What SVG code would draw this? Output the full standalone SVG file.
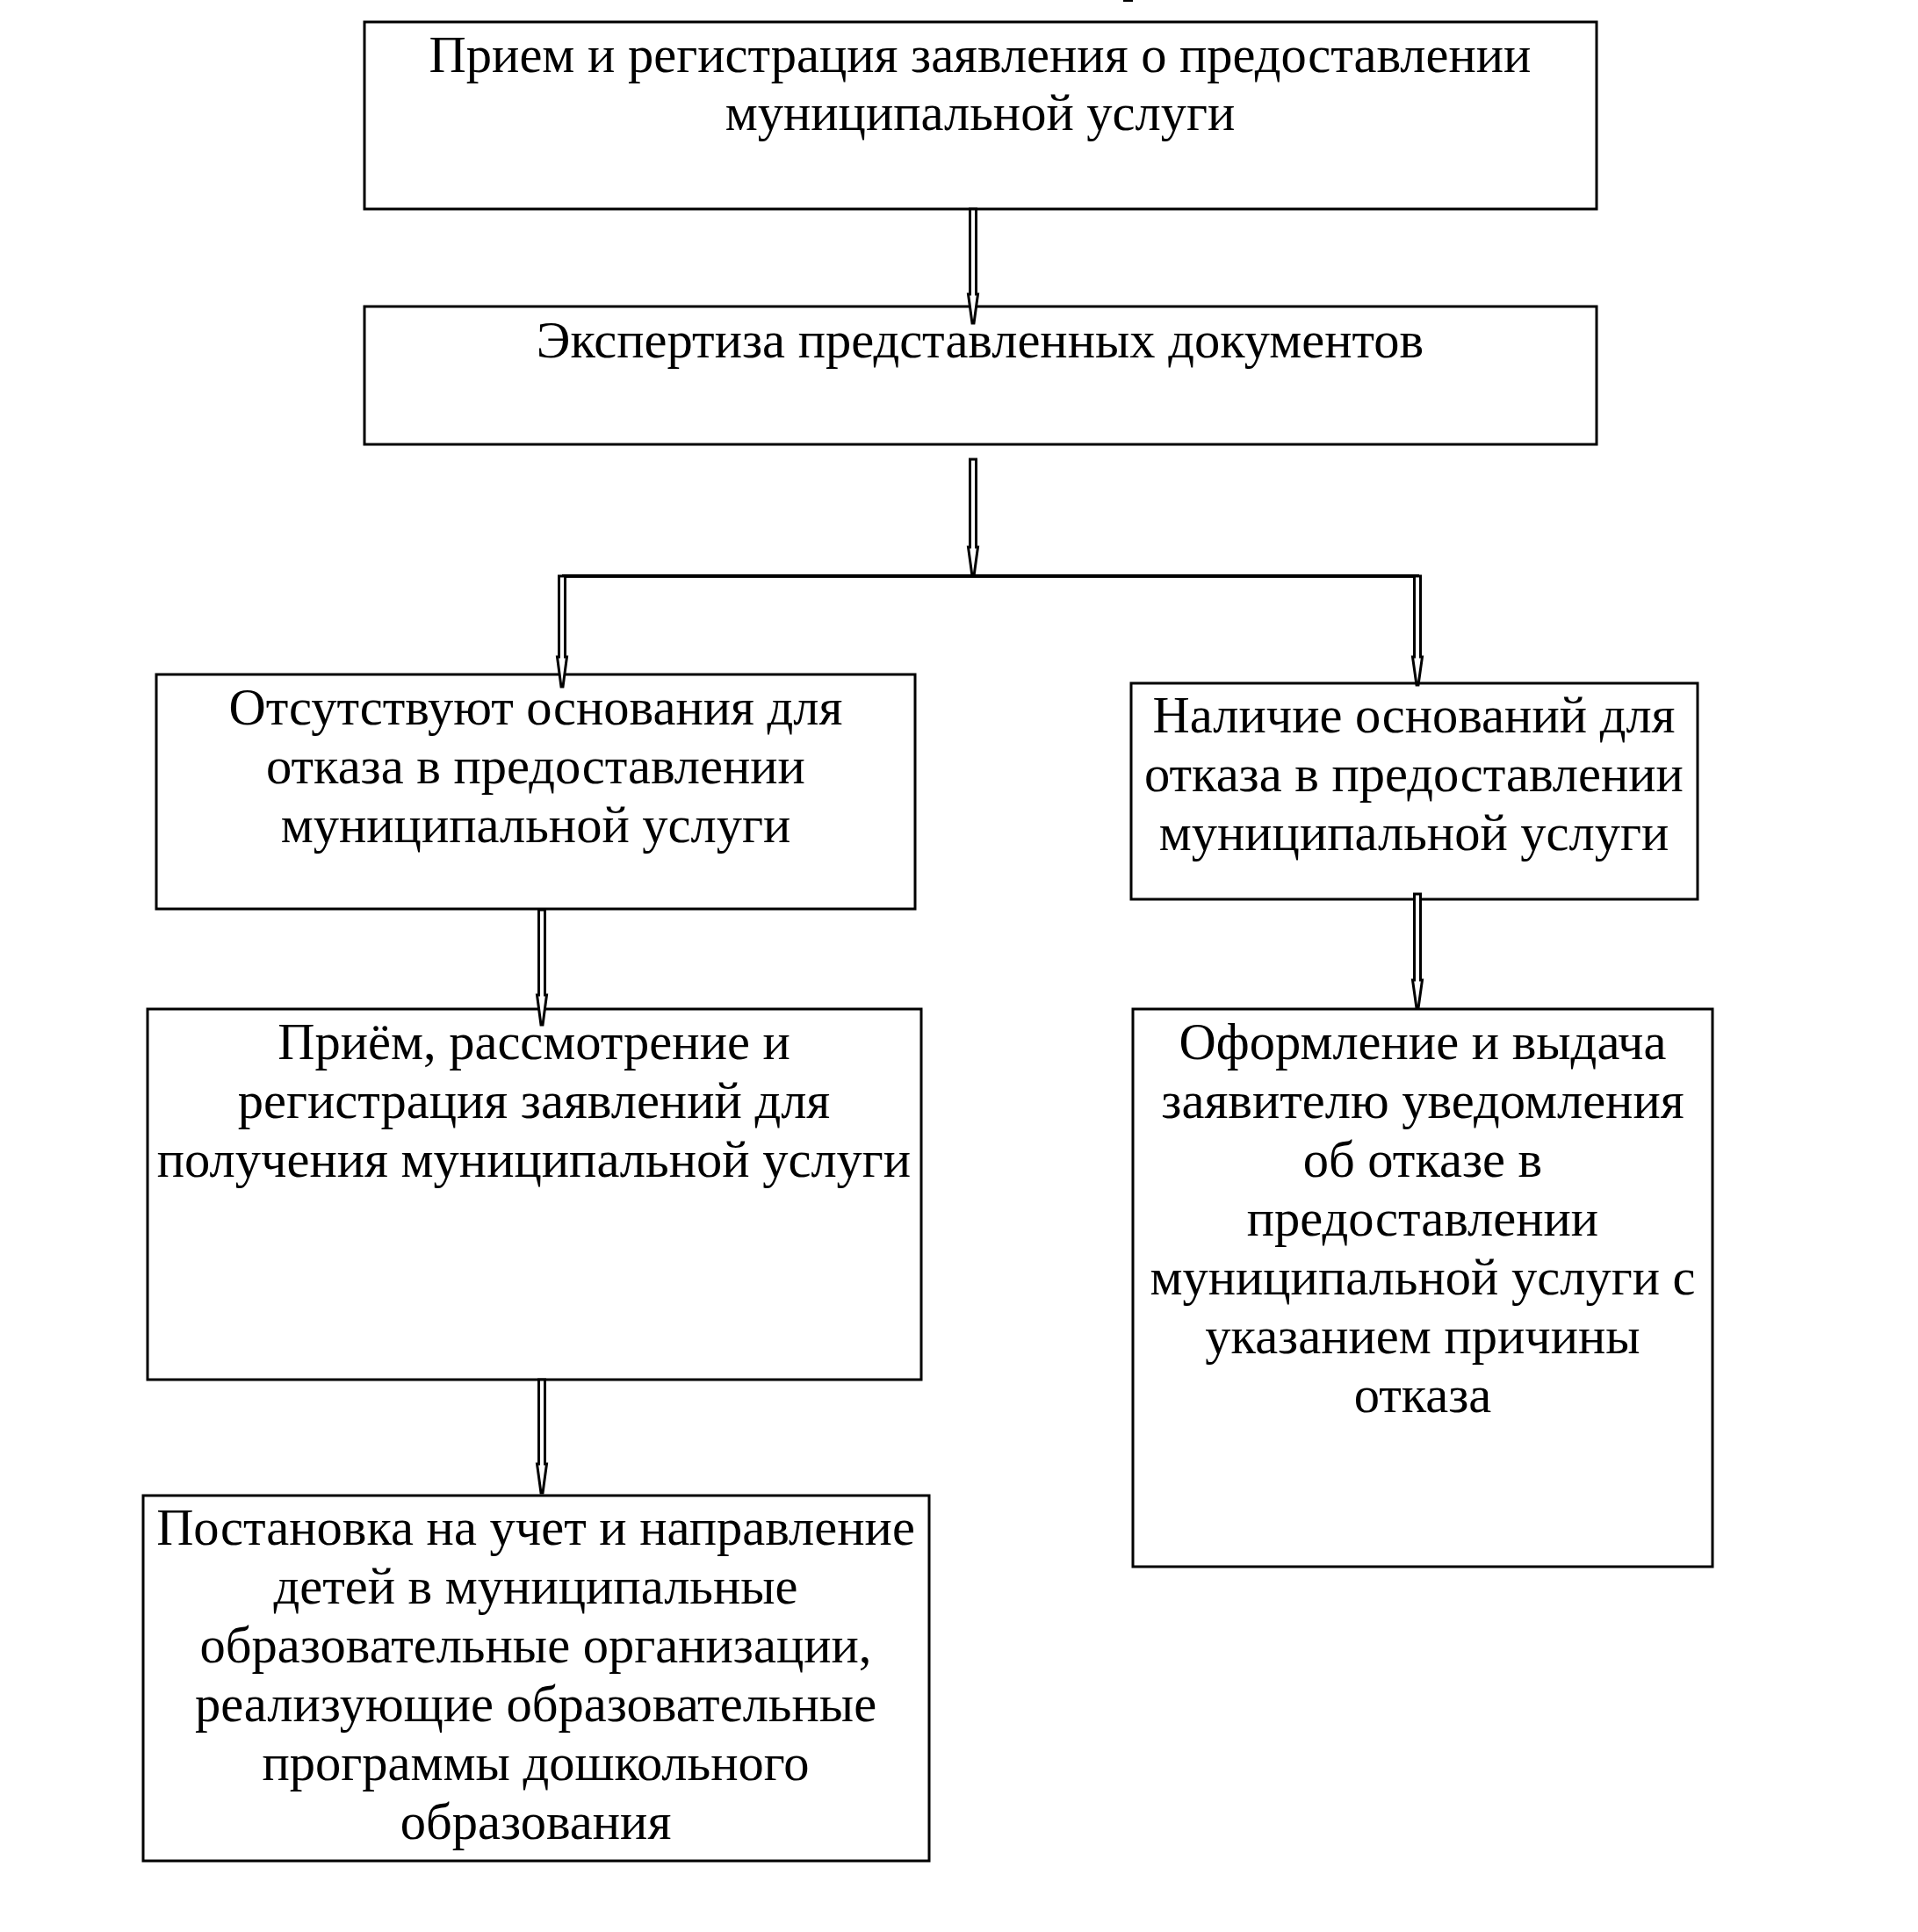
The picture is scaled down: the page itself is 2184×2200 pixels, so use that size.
<svg xmlns="http://www.w3.org/2000/svg" width="2184" height="2200" viewBox="0 0 2184 2200">
<style>
.box{fill:none;stroke:#000;stroke-width:3}
.arr{fill:#fff;stroke:#000;stroke-width:3;stroke-linejoin:miter}
.ln{fill:none;stroke:#000;stroke-width:4}
text{font-family:"Liberation Serif","Times New Roman",serif;font-size:58.5px;text-anchor:middle;fill:#000}
</style>
<rect x="0" y="0" width="2184" height="2200" fill="#fff"/>
<rect x="1279" y="0" width="11" height="2" fill="#000"/>
<g id="n1">
<rect class="box" x="415" y="25" width="1403" height="213"/>
<text x="1116" y="82">Прием и регистрация заявления о предоставлении</text>
<text x="1116" y="148">муниципальной услуги</text>
</g>
<g id="n2">
<rect class="box" x="415" y="349" width="1403" height="157"/>
<text x="1116" y="407">Экспертиза представленных документов</text>
</g>
<g id="n3">
<rect class="box" x="178" y="768" width="864" height="267"/>
<text x="610" y="825">Отсутствуют основания для</text>
<text x="610" y="892">отказа в предоставлении</text>
<text x="610" y="959">муниципальной услуги</text>
</g>
<g id="n4">
<rect class="box" x="1288" y="778" width="645" height="246"/>
<text x="1610" y="834">Наличие оснований для</text>
<text x="1610" y="901">отказа в предоставлении</text>
<text x="1610" y="968">муниципальной услуги</text>
</g>
<g id="n5">
<rect class="box" x="168" y="1149" width="881" height="422"/>
<text x="608" y="1206">Приём, рассмотрение и</text>
<text x="608" y="1273">регистрация заявлений для</text>
<text x="608" y="1340">получения муниципальной услуги</text>
</g>
<g id="n6">
<rect class="box" x="1290" y="1149" width="660" height="635"/>
<text x="1620" y="1206">Оформление и выдача</text>
<text x="1620" y="1273">заявителю уведомления</text>
<text x="1620" y="1340">об отказе в</text>
<text x="1620" y="1407">предоставлении</text>
<text x="1620" y="1474">муниципальной услуги с</text>
<text x="1620" y="1541">указанием причины</text>
<text x="1620" y="1608">отказа</text>
</g>
<g id="n7">
<rect class="box" x="163" y="1703" width="895" height="416"/>
<text x="610" y="1759">Постановка на учет и направление</text>
<text x="610" y="1826">детей в муниципальные</text>
<text x="610" y="1893">образовательные организации,</text>
<text x="610" y="1960">реализующие образовательные</text>
<text x="610" y="2027">программы дошкольного</text>
<text x="610" y="2094">образования</text>
</g>
<g id="connectors">
<polyline class="ln" points="640,656 1616,656"/>
<polygon class="arr" points="1104.5,238 1111.5,238 1111.5,335 1113.5,335 1109,368 1107,368 1102.5,335 1104.5,335"/>
<polygon class="arr" points="1104.5,523 1111.5,523 1111.5,623 1113.5,623 1109,656 1107,656 1102.5,623 1104.5,623"/>
<polygon class="arr" points="636.5,656 643.5,656 643.5,748 645.5,748 641,782 639,782 634.5,748 636.5,748"/>
<polygon class="arr" points="1610.5,656 1617.5,656 1617.5,748 1619.5,748 1615,780 1613,780 1608.5,748 1610.5,748"/>
<polygon class="arr" points="613.5,1036 620.5,1036 620.5,1133 622.5,1133 618,1167 616,1167 611.5,1133 613.5,1133"/>
<polygon class="arr" points="1610.5,1018 1617.5,1018 1617.5,1116 1619.5,1116 1615,1148 1613,1148 1608.5,1116 1610.5,1116"/>
<polygon class="arr" points="613.5,1571 620.5,1571 620.5,1667 622.5,1667 618,1700 616,1700 611.5,1667 613.5,1667"/>
</g>
</svg>
